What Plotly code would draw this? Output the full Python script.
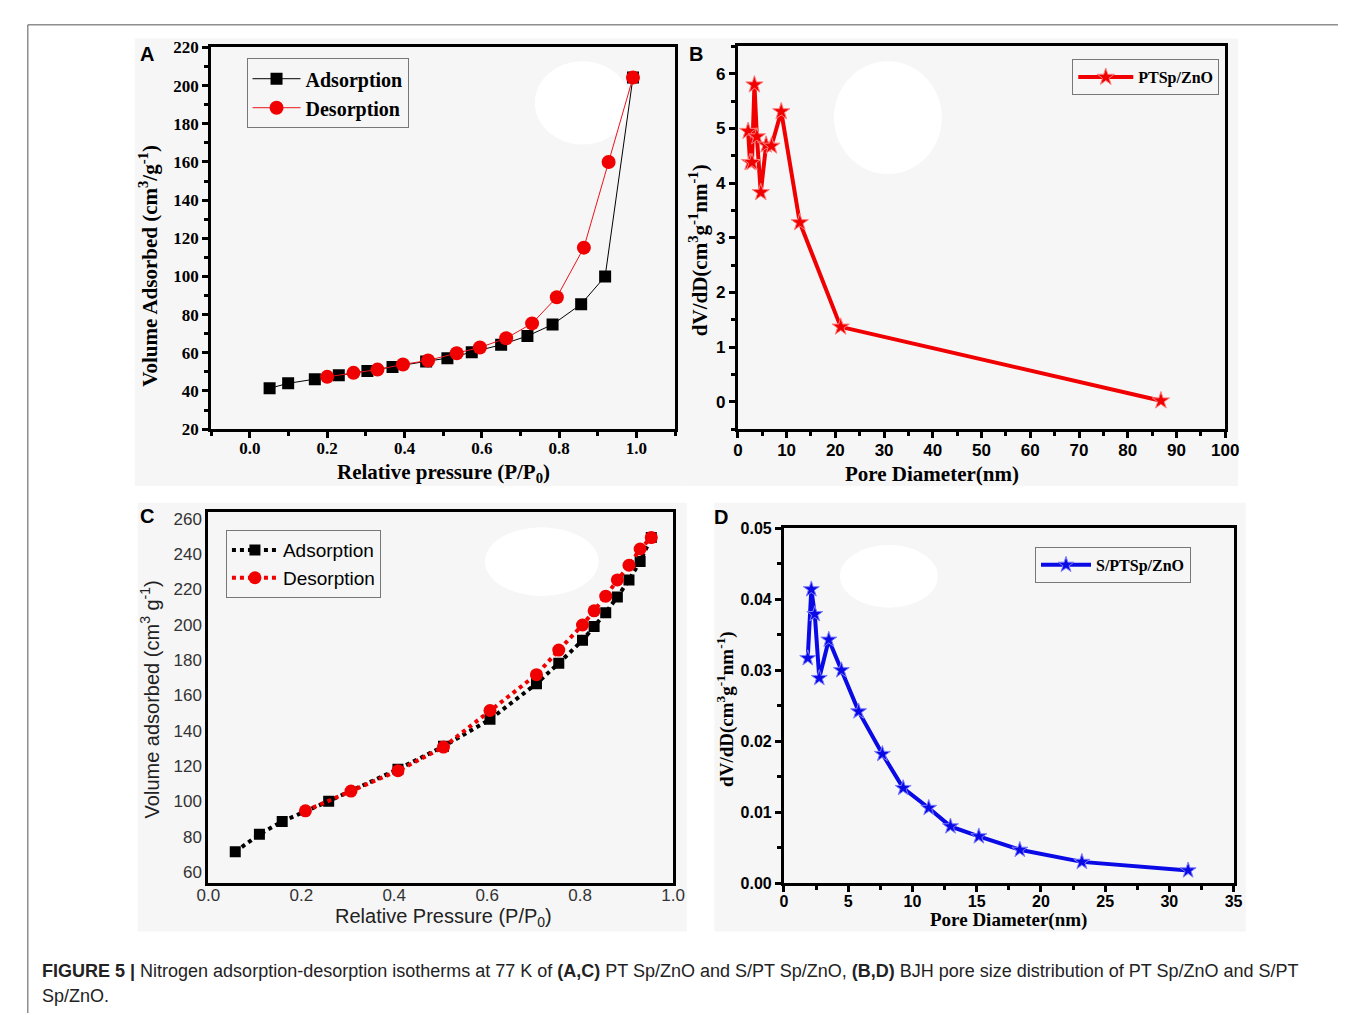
import plotly.graph_objects as go

W, H = 1346, 1015

# Panel A: PT Sp/ZnO isotherm
a_ads_p = [0.051, 0.099, 0.168, 0.230, 0.304, 0.369, 0.456, 0.511, 0.574, 0.650, 0.718, 0.783, 0.857, 0.919, 0.991]
a_ads_v = [41.4, 44.0, 46.2, 48.3, 50.5, 52.6, 55.5, 57.2, 60.3, 64.2, 68.8, 74.8, 85.5, 100.0, 204.2]
a_des_p = [0.200, 0.268, 0.330, 0.396, 0.461, 0.535, 0.595, 0.663, 0.730, 0.794, 0.864, 0.928, 0.991]
a_des_v = [47.4, 49.5, 51.2, 53.9, 56.0, 59.8, 62.8, 67.6, 75.4, 89.1, 115.1, 160.0, 204.2]

# Panel B: PT Sp/ZnO pore size distribution
b_d = [2.1, 2.5, 2.9, 3.4, 3.9, 4.7, 5.8, 6.9, 8.9, 12.7, 21.1, 86.8]
b_dv = [4.95, 4.38, 4.38, 5.80, 4.85, 3.83, 4.70, 4.68, 5.31, 3.28, 1.37, 0.02]

# Panel C: S/PT Sp/ZnO isotherm
c_ads_p = [0.058, 0.110, 0.159, 0.259, 0.408, 0.506, 0.606, 0.706, 0.754, 0.805, 0.830, 0.855, 0.880, 0.905, 0.929, 0.953]
c_ads_v = [71.5, 81.3, 88.6, 100.1, 118.2, 131.1, 146.4, 166.6, 178.2, 191.1, 198.9, 206.8, 215.7, 225.3, 235.8, 249.3]
c_des_p = [0.209, 0.307, 0.408, 0.506, 0.606, 0.706, 0.754, 0.805, 0.830, 0.855, 0.880, 0.905, 0.929, 0.953]
c_des_v = [94.6, 105.8, 117.3, 130.7, 151.4, 171.7, 185.6, 199.8, 207.8, 216.1, 225.3, 233.6, 242.8, 249.3]

# Panel D: S/PT Sp/ZnO pore size distribution
d_d = [1.85, 2.13, 2.40, 2.75, 3.49, 4.47, 5.81, 7.66, 9.28, 11.27, 12.96, 15.17, 18.36, 23.19, 31.46]
d_dv = [0.0317, 0.0414, 0.0379, 0.0289, 0.0343, 0.0300, 0.0242, 0.0182, 0.0134, 0.0106, 0.0080, 0.0066, 0.0047, 0.0030, 0.0018]

iso_ticks = [0, 0.2, 0.4, 0.6, 0.8, 1.0]
iso_ticktext = ["0.0", "0.2", "0.4", "0.6", "0.8", "1.0"]

SERIF = "Liberation Serif, Times New Roman, serif"
SANS = "Liberation Sans, Arial, sans-serif"


def px_x(x):
    return x / W


def px_y(y):
    return 1 - y / H


def dom(x0, x1, y0, y1):
    return [px_x(x0), px_x(x1)], [px_y(y1), px_y(y0)]


fig = go.Figure()

fig.add_trace(go.Scatter(x=a_ads_p, y=a_ads_v, mode="lines+markers", name="Adsorption",
                         line=dict(color="black", width=1),
                         marker=dict(symbol="square", size=12, color="black"),
                         xaxis="x", yaxis="y", legend="legend"))
fig.add_trace(go.Scatter(x=a_des_p, y=a_des_v, mode="lines+markers", name="Desorption",
                         line=dict(color="#e8151b", width=1),
                         marker=dict(symbol="circle", size=14, color="#f00000"),
                         xaxis="x", yaxis="y", legend="legend"))
fig.add_trace(go.Scatter(x=b_d, y=b_dv, mode="lines+markers", name="PTSp/ZnO",
                         line=dict(color="#f00000", width=4),
                         marker=dict(symbol="star", size=13, color="#f00000",
                                     line=dict(color="#ff8080", width=1)),
                         xaxis="x2", yaxis="y2", legend="legend2"))
fig.add_trace(go.Scatter(x=c_ads_p, y=c_ads_v, mode="lines+markers", name="Adsorption",
                         line=dict(color="black", width=4, dash="dot"),
                         marker=dict(symbol="square", size=11, color="black"),
                         xaxis="x3", yaxis="y3", legend="legend3"))
fig.add_trace(go.Scatter(x=c_des_p, y=c_des_v, mode="lines+markers", name="Desorption",
                         line=dict(color="#f00000", width=4, dash="dot"),
                         marker=dict(symbol="circle", size=13, color="#f00000"),
                         xaxis="x3", yaxis="y3", legend="legend3"))
fig.add_trace(go.Scatter(x=d_d, y=d_dv, mode="lines+markers", name="S/PTSp/ZnO",
                         line=dict(color="#0a0ae6", width=4),
                         marker=dict(symbol="star", size=12, color="#0a0ae6",
                                     line=dict(color="#8080ff", width=1)),
                         xaxis="x4", yaxis="y4", legend="legend4"))

ax_common = dict(showline=True, linewidth=3, linecolor="black", mirror=True,
                 showgrid=False, zeroline=False, ticks="outside", ticklen=6,
                 tickwidth=3, tickcolor="black")


def minor(step):
    return dict(dtick=step, ticks="outside", ticklen=4, tickwidth=3, tickcolor="black")


xa, ya = dom(195, 668, 31, 420)
xb, yb = dom(732, 1229, 30, 420)
xc, yc = dom(192, 666, 504, 883)
xd, yd = dom(779, 1237.5, 521, 882.7)

fig.update_layout(
    xaxis=dict(domain=xa, anchor="y", range=[-0.1, 1.1], tickmode="array",
               tickvals=iso_ticks, ticktext=iso_ticktext, minor=minor(0.1), ticklabelstandoff=-5,
               tickfont=dict(family=SERIF, size=17, color="black", weight="bold"), **ax_common),
    yaxis=dict(domain=ya, anchor="x", range=[20, 220], dtick=20, minor=minor(10),
               tickfont=dict(family=SERIF, size=17, color="black", weight="bold"), **ax_common),
    xaxis2=dict(domain=xb, anchor="y2", range=[0, 100], dtick=10, minor=minor(5), ticklabelstandoff=-3,
                tickfont=dict(family=SANS, size=17, color="black", weight="bold"), **ax_common),
    yaxis2=dict(domain=yb, anchor="x2", range=[-0.5, 6.5], dtick=1, minor=minor(0.5),
                tickfont=dict(family=SANS, size=17, color="black", weight="bold"), **ax_common),
    xaxis3=dict(domain=xc, anchor="y3", range=[0, 1.0], tickmode="array",
                tickvals=iso_ticks, ticktext=iso_ticktext, ticklabelstandoff=-6,
                showline=True, linewidth=3, linecolor="black", mirror=True,
                showgrid=False, zeroline=False, ticks="",
                tickfont=dict(family=SANS, size=17, color="#333333")),
    yaxis3=dict(domain=yc, anchor="x3", range=[53.5, 264], dtick=20,
                showline=True, linewidth=3, linecolor="black", mirror=True,
                showgrid=False, zeroline=False, ticks="",
                tickfont=dict(family=SANS, size=17, color="#333333")),
    xaxis4=dict(domain=xd, anchor="y4", range=[0, 35], dtick=5, minor=minor(2.5), ticklabelstandoff=-4,
                tickfont=dict(family=SANS, size=16, color="black", weight="bold"), **ax_common),
    yaxis4=dict(domain=yd, anchor="x4", range=[0, 0.05], dtick=0.01, tickformat=".2f",
                minor=minor(0.005),
                tickfont=dict(family=SANS, size=16, color="black", weight="bold"), **ax_common),
)

legend_common = dict(bgcolor="rgba(0,0,0,0)", bordercolor="#777777", borderwidth=1,
                     xanchor="left", yanchor="top", tracegroupgap=0)
fig.update_layout(
    showlegend=True,
    legend=dict(x=px_x(231), y=px_y(42), itemwidth=48,
                font=dict(family=SERIF, size=20, color="black", weight="bold"), **legend_common),
    legend2=dict(x=px_x(1073), y=px_y(43), itemwidth=55,
                 font=dict(family=SERIF, size=16, color="black", weight="bold"), **legend_common),
    legend3=dict(x=px_x(210), y=px_y(523), itemwidth=46,
                 font=dict(family=SANS, size=19, color="black"), **legend_common),
    legend4=dict(x=px_x(1035), y=px_y(540), itemwidth=50,
                 font=dict(family=SERIF, size=16, color="black", weight="bold"), **legend_common),
)

# panel backgrounds, white watermark patches and page frame
shapes = []
for x0, y0, x1, y1 in [(117, 22, 680, 478), (680, 22, 1242, 478), (120, 495, 680, 932), (708, 495, 1250, 932)]:
    shapes.append(dict(type="rect", xref="paper", yref="paper", x0=px_x(x0), x1=px_x(x1),
                       y0=px_y(y1), y1=px_y(y0), fillcolor="#f6f6f6", line=dict(width=0), layer="below"))
for x0, y0, x1, y1 in [(525, 45, 622, 130), (830, 45, 940, 160), (474, 520, 590, 590), (836, 538, 936, 602)]:
    shapes.append(dict(type="circle", xref="paper", yref="paper", x0=px_x(x0), x1=px_x(x1),
                       y0=px_y(y1), y1=px_y(y0), fillcolor="white", line=dict(width=0), layer="below"))
shapes.append(dict(type="line", xref="paper", yref="paper", x0=px_x(8), x1=1, y0=px_y(8), y1=px_y(8),
                   line=dict(color="#555555", width=1)))
shapes.append(dict(type="line", xref="paper", yref="paper", x0=px_x(8), x1=px_x(8), y0=0, y1=px_y(8),
                   line=dict(color="#555555", width=1)))

annotations = []


def note(text, x, y, font, angle=0, xanchor="center"):
    annotations.append(dict(text=text, x=px_x(x), y=px_y(y), xref="paper", yref="paper",
                            showarrow=False, textangle=angle, font=font,
                            xanchor=xanchor, yanchor="middle"))


serif_title = dict(family=SERIF, size=21, color="black", weight="bold")
serif_title_d = dict(family=SERIF, size=19, color="black", weight="bold")
sans_title = dict(family=SANS, size=20, color="#222222")
label_font = dict(family=SANS, size=20, color="black", weight="bold")

note("Relative pressure (P/P<sub>0</sub>)", 432, 465, serif_title)
note("Volume Adsorbed (cm<sup>3</sup>/g<sup>-1</sup>)", 131, 253, serif_title, angle=-90)
note("Pore Diameter(nm)", 930, 466, serif_title)
note("dV/dD(cm<sup>3</sup>g<sup>-1</sup>nm<sup>-1</sup>)", 692, 238, serif_title, angle=-90)
note("Relative Pressure (P/P<sub>0</sub>)", 432, 918, sans_title)
note("Volume adsorbed (cm<sup>3</sup> g<sup>-1</sup>)", 133, 695, sans_title, angle=-90)
note("Pore Diameter(nm)", 1008, 920, serif_title_d)
note("dV/dD(cm<sup>3</sup>g<sup>-1</sup>nm<sup>-1</sup>)", 720, 705, serif_title_d, angle=-90)

note("A", 130, 38, label_font)
note("B", 689, 38, label_font)
note("C", 130, 509, label_font)
note("D", 715, 510, label_font)

cap_font = dict(family=SANS, size=18, color="#222222")
note("<b>FIGURE 5 |</b> Nitrogen adsorption-desorption isotherms at 77 K of <b>(A,C)</b> PT Sp/ZnO and S/PT Sp/ZnO, "
     "<b>(B,D)</b> BJH pore size distribution of PT Sp/ZnO and S/PT", 20, 972, cap_font, xanchor="left")
note("Sp/ZnO.", 20, 998, cap_font, xanchor="left")

fig.update_layout(shapes=shapes, annotations=annotations,
                  width=W, height=H, margin=dict(l=0, r=0, t=0, b=0),
                  paper_bgcolor="white", plot_bgcolor="rgba(0,0,0,0)")

fig.write_html("out.html")
